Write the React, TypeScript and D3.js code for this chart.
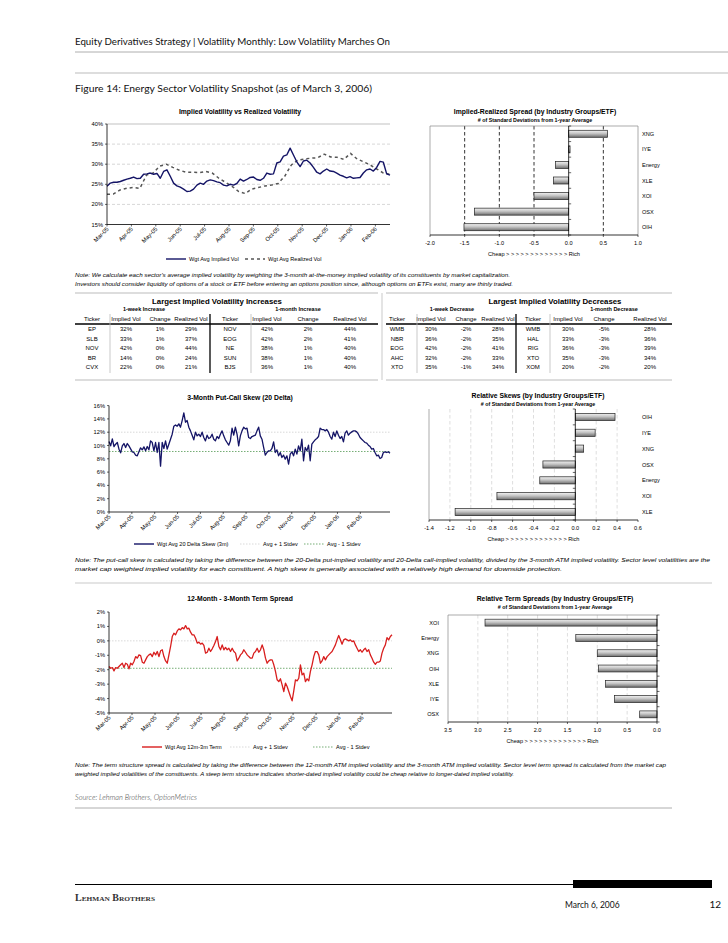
import React from "react";
import * as d3 from "d3";

const SANS = "'Liberation Sans', Arial, Helvetica, sans-serif";
const GEO = "Lato, 'DejaVu Sans', sans-serif";

// ---------- data ----------
const months = ["Mar-05", "Apr-05", "May-05", "Jun-05", "Jul-05", "Aug-05", "Sep-05", "Oct-05", "Nov-05", "Dec-05", "Jan-06", "Feb-06"];

// implied vs realized vol (%), Mar-05 .. early Mar-06
const impliedVol = [
  24.5, 25.3, 25.5, 25.5, 25.7, 26.0, 26.3, 26.5, 26.8, 26.4, 26.5, 27.5, 27.6, 27.8, 27.5, 27.7, 26.5, 28.2, 28.6, 27.0,
  25.3, 24.6, 24.3, 23.8, 23.2, 23.3, 23.8, 24.8, 25.3, 25.0, 25.8, 26.1, 25.9, 25.6, 25.4, 24.8, 24.6, 25.0, 24.8, 25.2,
  26.3, 25.8, 26.2, 26.7, 26.8, 26.2, 26.0, 26.5, 27.8, 27.5, 27.6, 30.3, 30.6, 32.0, 32.3, 34.0, 32.3, 30.6, 29.4, 30.8,
  31.0, 30.3, 29.2, 28.0, 27.6, 28.3, 28.8, 28.3, 28.2, 27.8, 27.3, 27.0, 26.6, 26.9, 26.5, 26.6, 26.7, 27.8, 28.6, 28.8,
  28.3, 29.2, 30.7, 30.5, 27.6, 27.3,
];
const realizedVol = [
  22.5, 22.6, 23.6, 24.0, 24.2, 24.0, 27.3, 27.8, 29.5, 30.0, 29.2, 28.5, 28.0, 28.0, 27.9, 28.2, 27.8, 26.5, 25.5, 24.5,
  23.2, 22.7, 23.8, 24.2, 24.6, 24.8, 25.2, 27.0, 29.8, 31.0, 31.3, 31.5, 31.6, 32.5, 31.8, 31.7, 31.2, 32.7, 31.3, 30.6,
  29.8, 28.8, 27.8, 27.5,
];

// 3-month 20 delta put-call skew (%)
const skew20d = [
  10.6, 9.95, 11.0, 9.85, 10.2, 10.45, 9.45, 8.9, 9.95, 10.3, 9.7, 10.3, 9.95, 9.5, 9.05, 8.95, 8.55, 8.45, 9.05, 9.65,
  9.35, 9.8, 9.2, 9.85, 9.35, 10.7, 10.45, 9.2, 10.45, 8.95, 10.45, 6.9, 10.45, 9.55, 10.7, 9.45, 10.2, 10.95, 11.7, 12.9,
  13.1, 12.9, 13.25, 12.75, 13.75, 14.9, 13.5, 13.75, 12.75, 12.2, 11.55, 10.85, 12.0, 11.45, 11.7, 11.35, 12.0, 11.2, 10.7, 11.55,
  11.05, 11.2, 11.7, 10.95, 10.7, 11.35, 11.05, 11.7, 12.2, 11.45, 10.85, 10.45, 10.05, 10.7, 12.6, 11.55, 12.75, 11.7, 9.95, 11.45,
  12.2, 12.75, 12.5, 12.6, 11.2, 11.05, 11.35, 11.45, 11.55, 12.2, 12.75, 11.45, 10.95, 9.7, 8.55, 8.95, 9.2, 9.2, 9.55, 10.55,
  8.95, 9.35, 8.45, 8.95, 8.2, 8.55, 7.95, 8.45, 7.2, 8.7, 9.05, 8.45, 9.45, 8.7, 9.95, 9.2, 10.95, 7.7, 9.7, 9.2,
  10.05, 7.7, 10.2, 10.55, 10.85, 11.05, 11.35, 12.6, 12.4, 12.4, 12.2, 12.4, 12.0, 11.35, 10.95, 12.0, 11.35, 12.2, 11.55, 11.05,
  11.35, 10.55, 11.85, 12.2, 11.55, 11.85, 12.05, 12.2, 12.2, 12.05, 11.7, 11.2, 10.95, 10.7, 10.45, 10.35, 10.05, 9.85, 9.45, 9.55,
  8.95, 8.45, 8.55, 8.05, 8.2, 8.95, 9.05, 8.95, 9.05, 8.85,
];
const skewAvgPlus = 12.0;
const skewAvgMinus = 9.1;

// 12m - 3m term spread (%)
const termSpread = [
  -1.78, -1.9, -1.85, -2.08, -1.85, -1.9, -1.78, -1.66, -1.55, -1.85, -1.55, -1.62, -1.94, -1.55, -1.66, -1.43, -1.09, -1.2, -0.97, -1.02,
  -1.48, -1.55, -1.32, -1.09, -0.97, -0.9, -1.09, -0.79, -0.97, -0.74, -1.09, -0.69, -0.62, -1.09, -1.39, -1.55, -0.97, -0.39, 0.3, 0.53,
  0.42, 0.69, 0.83, 0.76, 0.92, 0.83, 1.06, 0.83, 0.88, 0.6, 0.42, 0.42, 0.18, -0.16, -0.09, -0.23, -0.16, -0.32, -0.85, -0.79,
  -0.51, -0.74, -0.55, -0.32, -0.05, 0.3, -0.39, -0.62, -0.28, -0.62, -0.46, -0.62, -0.51, -0.74, -0.51, -0.74, -0.85, -1.39, -1.2, -0.97,
  -0.85, -0.62, -0.79, -0.97, -1.09, -1.2, -1.2, -0.85, -0.74, -0.51, -0.79, -0.62, -0.28, -0.62, -1.2, -1.55, -1.39, -1.32, -1.32, -1.66,
  -2.12, -2.7, -2.82, -2.63, -3.05, -3.51, -2.93, -3.16, -3.51, -3.86, -4.16, -3.46, -2.7, -2.77, -2.59, -1.66, -2.36, -2.24, -2.82, -2.63,
  -2.77, -2.12, -1.66, -1.09, -0.74, -0.74, -0.97, -1.55, -1.39, -1.09, -1.32, -1.09, -0.97, -0.85, -0.74, -0.51, -0.28, 0.07, 0.37, 0.07,
  -0.23, 0.07, 0.14, 0.07, 0.0, 0.07, -0.05, 0.0, -0.28, -0.51, -0.74, -0.62, -0.79, -0.62, -0.51, -0.74, -0.62, -0.97, -1.2, -1.48,
  -1.62, -1.48, -1.48, -1.39, -0.85, -0.51, -0.28, 0.23, 0.07, 0.3, 0.42,
];
const termAvgPlus = 0.0;
const termAvgMinus = -1.9;

// standard deviations from 1-year average
const spreadGroups = ["XNG", "IYE", "Energy", "XLE", "XOI", "OSX", "OIH"];
const spreadValues = [0.56, 0.02, -0.19, -0.22, -0.5, -1.36, -1.51];
const skewGroups = ["OIH", "IYE", "XNG", "OSX", "Energy", "XOI", "XLE"];
const skewValues = [0.38, 0.19, 0.08, -0.31, -0.34, -0.75, -1.15];
const termGroups = ["XOI", "Energy", "XNG", "OIH", "XLE", "IYE", "OSX"];
const termValues = [2.88, 1.36, 1.0, 0.98, 0.86, 0.71, 0.29];

// tables
const colHeads = ["Ticker", "Implied Vol", "Change", "Realized Vol"];
const incWeekTicker = ["EP", "SLB", "NOV", "BR", "CVX"];
const incWeekIV = ["32%", "33%", "42%", "14%", "22%"];
const incWeekChg = ["1%", "1%", "0%", "0%", "0%"];
const incWeekRV = ["29%", "37%", "44%", "24%", "21%"];
const incMonthTicker = ["NOV", "EOG", "NE", "SUN", "BJS"];
const incMonthIV = ["42%", "42%", "38%", "38%", "36%"];
const incMonthChg = ["2%", "2%", "1%", "1%", "1%"];
const incMonthRV = ["44%", "41%", "40%", "40%", "40%"];
const decWeekTicker = ["WMB", "NBR", "EOG", "AHC", "XTO"];
const decWeekIV = ["30%", "36%", "42%", "32%", "35%"];
const decWeekChg = ["-2%", "-2%", "-2%", "-2%", "-1%"];
const decWeekRV = ["28%", "35%", "41%", "33%", "34%"];
const decMonthTicker = ["WMB", "HAL", "RIG", "XTO", "XOM"];
const decMonthIV = ["30%", "33%", "36%", "35%", "20%"];
const decMonthChg = ["-5%", "-3%", "-3%", "-3%", "-2%"];
const decMonthRV = ["28%", "36%", "39%", "34%", "20%"];

// ---------- line chart ----------
type Series = { values: number[]; color: string; width: number; dash?: string };
type RefLine = { value: number; color: string };
type LegendItem = { label: string; color: string; width: number; dash?: string; x: number };

type LineChartProps = {
  title: string;
  titleY: number;
  left: number;
  right: number;
  top: number;
  bottom: number;
  yDomain: [number, number];
  yStep: number;
  span: number;
  series: Series[];
  refs?: RefLine[];
  grid?: boolean;
  legend: LegendItem[];
  legendY: number;
};

const LineChart = ({ title, titleY, left, right, top, bottom, yDomain, yStep, span, series, refs = [], grid, legend, legendY }: LineChartProps) => {
  const x = d3.scaleLinear().domain([0, span]).range([left, right]);
  const y = d3.scaleLinear().domain(yDomain).range([bottom, top]);
  const yTicks = d3.range(yDomain[0], yDomain[1] + yStep / 2, yStep);

  const path = (vals: number[]) =>
    d3
      .line<number>()
      .x((_, i) => x((i * span) / (vals.length - 1)))
      .y((d) => y(d))(vals) || "";

  return (
    <g fontFamily={SANS}>
      <text x={240} y={titleY} textAnchor="middle" fontSize={6.8} fontWeight="bold">
        {title}
      </text>
      {grid &&
        yTicks.slice(1).map((t) => (
          <line key={t} x1={left} x2={right} y1={y(t)} y2={y(t)} stroke={t === yDomain[1] ? "#999" : "#bbb"} strokeWidth={0.6} strokeDasharray={t === yDomain[1] ? undefined : "3,2"} />
        ))}
      {refs.map((r, i) => (
        <line key={i} x1={left} x2={right} y1={y(r.value)} y2={y(r.value)} stroke={r.color} strokeWidth={0.7} strokeDasharray="1.5,1.5" />
      ))}
      {series.map((s, i) => (
        <path key={i} d={path(s.values)} fill="none" stroke={s.color} strokeWidth={s.width} strokeDasharray={s.dash} strokeLinejoin="round" />
      ))}
      <line x1={left} x2={left} y1={top} y2={bottom} stroke="#000" strokeWidth={0.8} />
      <line x1={left} x2={right} y1={bottom} y2={bottom} stroke="#000" strokeWidth={0.8} />
      {yTicks.map((t) => (
        <g key={t}>
          <line x1={left - 2} x2={left} y1={y(t)} y2={y(t)} stroke="#000" strokeWidth={0.6} />
          <text x={left - 4} y={y(t) + 2} textAnchor="end" fontSize={5.7}>
            {d3.format(".0f")(t).replace("\u2212", "-")}%
          </text>
        </g>
      ))}
      {months.map((m, i) => (
        <g key={m}>
          <line x1={x(i)} x2={x(i)} y1={bottom} y2={bottom + 2} stroke="#000" strokeWidth={0.6} />
          <text transform={`translate(${x(i) + 2},${bottom + 5}) rotate(-45)`} textAnchor="end" fontSize={5.8}>
            {m}
          </text>
        </g>
      ))}
      {legend.map((l) => (
        <g key={l.label}>
          <line x1={l.x} x2={l.x + 20} y1={legendY} y2={legendY} stroke={l.color} strokeWidth={l.width} strokeDasharray={l.dash} />
          <text x={l.x + 23} y={legendY + 2} fontSize={5.6}>
            {l.label}
          </text>
        </g>
      ))}
    </g>
  );
};

// ---------- bar chart ----------
type BarChartProps = {
  title: string;
  titleX: number;
  titleY: number;
  left: number;
  right: number;
  top: number;
  bottom: number;
  domain: [number, number];
  step: number;
  groups: string[];
  values: number[];
  labelSide: "left" | "right";
  grid: number[];
  gridColor: string;
  box: { top: boolean; right: boolean };
  zeroTickDir: number;
};

const BarChart = ({ title, titleX, titleY, left, right, top, bottom, domain, step, groups, values, labelSide, grid, gridColor, box, zeroTickDir }: BarChartProps) => {
  const x = d3.scaleLinear().domain(domain).range([left, right]);
  const yb = d3.scaleBand().domain(groups).range([top, bottom]).paddingInner(0.55).paddingOuter(0.275);
  const lo = Math.min(...domain);
  const hi = Math.max(...domain);
  const ticks = d3.range(lo, hi + step / 2, step).map((v) => Math.round(v * 10) / 10);
  const band = (bottom - top) / groups.length;
  const x0 = x(0);

  return (
    <g fontFamily={SANS}>
      <text x={titleX} y={titleY} textAnchor="middle" fontSize={6.8} fontWeight="bold">
        {title}
      </text>
      <text x={titleX} y={titleY + 8} textAnchor="middle" fontSize={5.3} fontWeight="bold">
        # of Standard Deviations from 1-year Average
      </text>
      {grid.map((g) => (
        <line key={g} x1={x(g)} x2={x(g)} y1={top} y2={bottom} stroke={gridColor} strokeWidth={gridColor === "#000" ? 0.8 : 0.6} strokeDasharray="3.5,2.5" />
      ))}
      <line x1={left} x2={left} y1={top} y2={bottom} stroke="#888" strokeWidth={0.7} />
      {box.top && <line x1={left} x2={right} y1={top} y2={top} stroke="#888" strokeWidth={0.7} />}
      {box.right && <line x1={right} x2={right} y1={top} y2={bottom} stroke="#888" strokeWidth={0.7} />}
      {groups.map((g, i) => {
        const v = values[i];
        const bx = Math.min(x(v), x0);
        const bw = Math.abs(x(v) - x0);
        return (
          <g key={g}>
            <rect x={bx} y={yb(g)} width={Math.max(bw, 0.8)} height={yb.bandwidth()} fill="url(#barGrad)" stroke="#222" strokeWidth={0.7} />
            <text
              x={labelSide === "right" ? right + 4 : left - 9}
              y={(yb(g) ?? 0) + yb.bandwidth() / 2 + 2}
              textAnchor={labelSide === "right" ? "start" : "end"}
              fontSize={5.6}
            >
              {g}
            </text>
          </g>
        );
      })}
      <line x1={x0} x2={x0} y1={top} y2={bottom} stroke="#000" strokeWidth={0.8} />
      {d3.range(groups.length + 1).map((k) => (
        <line key={k} x1={x0} x2={x0 + zeroTickDir * 2.5} y1={top + k * band} y2={top + k * band} stroke="#000" strokeWidth={0.6} />
      ))}
      <line x1={left} x2={right} y1={bottom} y2={bottom} stroke="#000" strokeWidth={0.8} />
      {ticks.map((t) => (
        <g key={t}>
          <line x1={x(t)} x2={x(t)} y1={bottom} y2={bottom + 2} stroke="#000" strokeWidth={0.6} />
          <text x={x(t)} y={bottom + 9.5} textAnchor="middle" fontSize={5.6}>
            {t.toFixed(1)}
          </text>
        </g>
      ))}
      <text x={(left + right) / 2} y={bottom + 21} textAnchor="middle" fontSize={5.6}>
        {"Cheap > > > > > > > > > > > > > Rich"}
      </text>
    </g>
  );
};

// ---------- tables ----------
type TableProps = {
  x0: number;
  x1: number;
  title: string;
  titleX: number;
  subs: { label: string; x: number }[];
  cols: number[];
  thin: number[];
  thick: number;
  columns: string[][];
};

const ROW_Y = [331, 340.5, 350, 359.5, 369];

const MoverTable = ({ x0, x1, title, titleX, subs, cols, thin, thick, columns }: TableProps) => (
  <g fontFamily={SANS}>
    <line x1={x0} x2={x1} y1={293} y2={293} stroke="#aaa" strokeWidth={0.8} />
    <text x={titleX} y={304} textAnchor="middle" fontSize={7.8} fontWeight="bold">
      {title}
    </text>
    {subs.map((s) => (
      <text key={s.label} x={s.x} y={311} textAnchor="middle" fontSize={5.5} fontWeight="bold">
        {s.label}
      </text>
    ))}
    {cols.map((c, i) => (
      <text key={i} x={c} y={320.5} textAnchor="middle" fontSize={6}>
        {colHeads[i % 4]}
      </text>
    ))}
    <line x1={x0} x2={x1} y1={324} y2={324} stroke="#000" strokeWidth={1.3} />
    {thin.map((t) => (
      <line key={t} x1={t} x2={t} y1={314} y2={373} stroke="#bbb" strokeWidth={0.8} />
    ))}
    <line x1={thick} x2={thick} y1={314} y2={373} stroke="#000" strokeWidth={1.3} />
    {columns.map((col, ci) =>
      col.map((v, ri) => (
        <text key={`${ci}-${ri}`} x={cols[ci]} y={ROW_Y[ri]} textAnchor="middle" fontSize={6}>
          {v}
        </text>
      ))
    )}
    <line x1={x0} x2={x1} y1={380} y2={380} stroke="#aaa" strokeWidth={0.8} />
  </g>
);

const Note = ({ y, lines }: { y: number; lines: { text: string; end: number }[] }) => (
  <g fontFamily={SANS} fontStyle="italic" fontSize={5.3}>
    {lines.map((l, i) => (
      <text key={i} x={75} y={y + i * 8.5} textLength={l.end - 75} lengthAdjust="spacingAndGlyphs">
        {l.text}
      </text>
    ))}
  </g>
);

const App = () => {
  const navy = "#141466";
  return (
    <svg width={728} height={943} style={{ position: "absolute", left: 0, top: 0, background: "#fff" }}>
      <defs>
        <linearGradient id="barGrad" x1="0" y1="0" x2="0" y2="1">
          <stop offset="0%" stopColor="#f2f2f2" />
          <stop offset="45%" stopColor="#c4c4c4" />
          <stop offset="100%" stopColor="#6e6e6e" />
        </linearGradient>
      </defs>
      <rect width={728} height={943} fill="#fff" />

      {/* page header */}
      <text x={75} y={45} fontFamily={GEO} fontSize={9} textLength={315} lengthAdjust="spacingAndGlyphs" fill="#111">
        Equity Derivatives Strategy | Volatility Monthly: Low Volatility Marches On
      </text>
      <line x1={75} x2={728} y1={52} y2={52} stroke="#999" strokeWidth={0.8} />
      <line x1={75} x2={728} y1={73} y2={73} stroke="#bbb" strokeWidth={1.2} />
      <text x={75} y={92} fontFamily={GEO} fontSize={9.4} textLength={297} lengthAdjust="spacingAndGlyphs" fill="#111">
        Figure 14: Energy Sector Volatility Snapshot (as of March 3, 2006)
      </text>

      {/* row 1 */}
      <LineChart
        title="Implied Volatility vs Realized Volatility"
        titleY={114}
        left={107}
        right={390}
        top={124}
        bottom={224.5}
        yDomain={[15, 40]}
        yStep={5}
        span={11.6}
        grid
        series={[
          { values: realizedVol, color: "#555", width: 1.5, dash: "3,3" },
          { values: impliedVol, color: navy, width: 1.4 },
        ]}
        legend={[
          { label: "Wgt Avg Implied Vol", color: navy, width: 1.4, x: 166 },
          { label: "Wgt Avg Realized Vol", color: "#555", width: 1.5, dash: "3,3", x: 245 },
        ]}
        legendY={259}
      />
      <BarChart
        title="Implied-Realized Spread (by Industry Groups/ETF)"
        titleX={535}
        titleY={114}
        left={430}
        right={638}
        top={126}
        bottom={235}
        domain={[-2, 1]}
        step={0.5}
        groups={spreadGroups}
        values={spreadValues}
        labelSide="right"
        grid={[-1.5, -1, -0.5, 0.5]}
        gridColor="#000"
        box={{ top: true, right: true }}
        zeroTickDir={1}
      />

      <Note
        y={277}
        lines={[
          { text: "Note: We calculate each sector's average implied volatility by weighting the 3-month at-the-money implied volatility of its constituents by market capitalization.", end: 510 },
          { text: "Investors should consider liquidity of options of a stock or ETF before entering an options position since, although options on ETFs exist, many are thinly traded.", end: 513 },
        ]}
      />

      {/* tables */}
      <MoverTable
        x0={75}
        x1={378}
        title="Largest Implied Volatility Increases"
        titleX={217}
        subs={[
          { label: "1-week Increase", x: 144 },
          { label: "1-month Increase", x: 298 },
        ]}
        cols={[92, 126, 160, 191, 230, 267, 308, 350]}
        thin={[110, 251]}
        thick={210}
        columns={[incWeekTicker, incWeekIV, incWeekChg, incWeekRV, incMonthTicker, incMonthIV, incMonthChg, incMonthRV]}
      />
      <line x1={382} x2={382} y1={293} y2={380} stroke="#bbb" strokeWidth={0.8} />
      <MoverTable
        x0={386}
        x1={672}
        title="Largest Implied Volatility Decreases"
        titleX={555}
        subs={[
          { label: "1-week Decrease", x: 452 },
          { label: "1-month Decrease", x: 614 },
        ]}
        cols={[397, 431, 466, 498, 533, 568, 604, 650]}
        thin={[417, 550]}
        thick={516}
        columns={[decWeekTicker, decWeekIV, decWeekChg, decWeekRV, decMonthTicker, decMonthIV, decMonthChg, decMonthRV]}
      />

      {/* row 2 */}
      <LineChart
        title="3-Month Put-Call Skew (20 Delta)"
        titleY={400}
        left={109}
        right={390}
        top={405.6}
        bottom={512}
        yDomain={[0, 16]}
        yStep={2}
        span={12.3}
        refs={[
          { value: skewAvgPlus, color: "#c8c8c8" },
          { value: skewAvgMinus, color: "#3a8a3a" },
        ]}
        series={[{ values: skew20d, color: navy, width: 1.3 }]}
        legend={[
          { label: "Wgt Avg 20 Delta Skew (3m)", color: navy, width: 1.4, x: 134 },
          { label: "Avg + 1 Stdev", color: "#c8c8c8", width: 0.7, dash: "1.5,1.5", x: 240 },
          { label: "Avg - 1 Stdev", color: "#3a8a3a", width: 0.7, dash: "1.5,1.5", x: 304 },
        ]}
        legendY={544}
      />
      <BarChart
        title="Relative Skews (by Industry Groups/ETF)"
        titleX={538}
        titleY={398}
        left={429}
        right={638}
        top={409}
        bottom={520}
        domain={[-1.4, 0.6]}
        step={0.2}
        groups={skewGroups}
        values={skewValues}
        labelSide="right"
        grid={[-1.2, -1, -0.8, -0.6, -0.4, -0.2, 0.2, 0.4]}
        gridColor="#c8c8c8"
        box={{ top: false, right: false }}
        zeroTickDir={-1}
      />

      <Note
        y={562}
        lines={[
          {
            text: "Note: The put-call skew is calculated by taking the difference between the 20-Delta put-implied volatility and 20-Delta call-implied volatility, divided by the 3-month ATM implied volatility. Sector level volatilities are the",
            end: 710,
          },
          { text: "market cap weighted implied volatility for each constituent. A high skew is generally associated with a relatively high demand for downside protection.", end: 562 },
        ]}
      />
      <line x1={75} x2={712} y1={583} y2={583} stroke="#bbb" strokeWidth={0.8} />

      {/* row 3 */}
      <LineChart
        title="12-Month - 3-Month Term Spread"
        titleY={601}
        left={109}
        right={392}
        top={612}
        bottom={713}
        yDomain={[-5, 2]}
        yStep={1}
        span={12.3}
        refs={[
          { value: termAvgPlus, color: "#c8c8c8" },
          { value: termAvgMinus, color: "#3a8a3a" },
        ]}
        series={[{ values: termSpread, color: "#d81e1e", width: 1.3 }]}
        legend={[
          { label: "Wgt Avg 12m-3m Term", color: "#d81e1e", width: 1.4, x: 142 },
          { label: "Avg + 1 Stdev", color: "#c8c8c8", width: 0.7, dash: "1.5,1.5", x: 230 },
          { label: "Avg - 1 Stdev", color: "#3a8a3a", width: 0.7, dash: "1.5,1.5", x: 313 },
        ]}
        legendY={747}
      />
      <BarChart
        title="Relative Term Spreads (by Industry Groups/ETF)"
        titleX={555}
        titleY={601}
        left={448}
        right={657}
        top={615}
        bottom={722}
        domain={[3.5, 0]}
        step={0.5}
        groups={termGroups}
        values={termValues}
        labelSide="left"
        grid={[3, 2.5, 2, 1.5, 1, 0.5]}
        gridColor="#c8c8c8"
        box={{ top: true, right: false }}
        zeroTickDir={1}
      />

      <Note
        y={767}
        lines={[
          {
            text: "Note: The term structure spread is calculated by taking the difference between the 12-month ATM implied volatility and the 3-month ATM implied volatility. Sector level term spread is calculated from the market cap",
            end: 666,
          },
          { text: "weighted implied volatilities of the constituents. A steep term structure indicates shorter-dated implied volatility could be cheap relative to longer-dated implied volatility.", end: 514 },
        ]}
      />

      <text x={75} y={800} fontFamily={GEO} fontStyle="italic" fontWeight={300} fontSize={8} fill="#444" textLength={122} lengthAdjust="spacingAndGlyphs">
        Source: Lehman Brothers, OptionMetrics
      </text>
      <line x1={75} x2={672} y1={808} y2={808} stroke="#999" strokeWidth={0.8} />

      {/* footer */}
      <line x1={75} x2={573} y1={884.5} y2={884.5} stroke="#000" strokeWidth={1} />
      <rect x={573} y={880} width={139} height={8} fill="#000" />
      <text x={75} y={901} fontFamily="'Liberation Serif', serif" fontSize={9.5} fontWeight="bold" style={{ fontVariant: "small-caps" }} fill="#333" textLength={80} lengthAdjust="spacingAndGlyphs">
        Lehman Brothers
      </text>
      <text x={565} y={908} fontFamily={GEO} fontSize={8.5} fill="#111">
        March 6, 2006
      </text>
      <text x={721} y={908} fontFamily={GEO} fontSize={10} textAnchor="end" fill="#111">
        12
      </text>
    </svg>
  );
};

export default App;
